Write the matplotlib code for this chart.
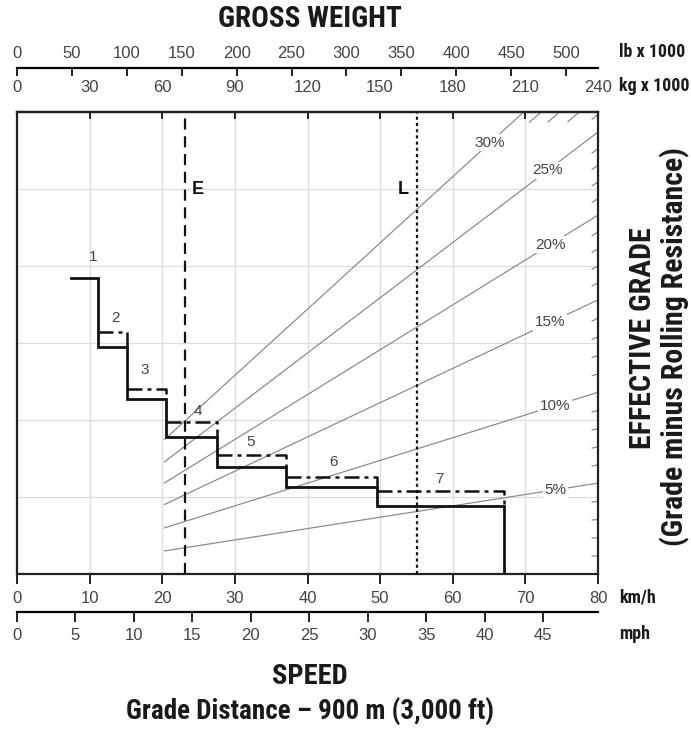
import numpy as np
import matplotlib
matplotlib.use("Agg")
import matplotlib.pyplot as plt
from matplotlib import font_manager

# ---- data ----
# speed in km/h, vertical position in grid units (0..6, unlabeled axis)
gear_names = ['1', '2', '3', '4', '5', '6', '7']
gear_start = [7.4, 11.1, 15.2, 20.5, 27.5, 37.0, 49.6]
gear_end = [11.1, 15.2, 20.5, 27.5, 37.0, 49.6, 67.1]
solid_level = [3.84, 2.95, 2.27, 1.78, 1.39, 1.13, 0.88]
dashdot_level = [None, 3.14, 2.40, 1.97, 1.55, 1.26, 1.08]
gear_label_x = [10.5, 13.5, 17.6, 24.9, 32.2, 43.6, 58.2]
gear_label_y = [4.12, 3.32, 2.65, 2.12, 1.71, 1.45, 1.24]

# grade lines: value reached at the right edge (80 km/h / 240 t), grid units
grade_pct = [5, 10, 15, 20, 25, 30]
grade_edge = [1.18, 2.36, 3.56, 4.66, 5.74, 6.88]
grade_label_x = [74.1, 74.1, 73.4, 73.4, 73.1, 65.1]
grade_start_x = 20.3

e_speed = 23.1
l_speed = 55.1

kmh_ticks = [0, 10, 20, 30, 40, 50, 60, 70, 80]
mph_ticks = [0, 5, 10, 15, 20, 25, 30, 35, 40, 45]
lb_ticks = [0, 50, 100, 150, 200, 250, 300, 350, 400, 450, 500]
kg_ticks = [0, 30, 60, 90, 120, 150, 180, 210, 240]

# ---- fonts ----
names = {f.name for f in font_manager.fontManager.ttflist}
cond = [n for n in ['Roboto Condensed', 'Liberation Sans Narrow'] if n in names] + ['DejaVu Sans']
plain = ['Liberation Sans', 'DejaVu Sans']
tick_col = '#444444'
tick_fs = 12

W, H = 691, 733
fig = plt.figure(figsize=(W / 100, H / 100), dpi=100)
L, R, T, B = 17, 598, 112, 574
ax = fig.add_axes([L / W, 1 - B / H, (R - L) / W, (B - T) / H])
ax.set_xlim(0, 80)
ax.set_ylim(0, 6)

# grid
for x in kmh_ticks[1:-1]:
    ax.axvline(x, color='#dcdcdc', lw=0.9, zorder=0)
for y in range(1, 6):
    ax.axhline(y, color='#dcdcdc', lw=0.9, zorder=0)

# grade lines (straight from zero weight)
for g, edge, lx in zip(grade_pct, grade_edge, grade_label_x):
    x_exit = min(80, 80 * 6 / edge)
    xs = np.array([grade_start_x, x_exit])
    ax.plot(xs, edge * xs / 80, color='#8c8c8c', lw=0.9, zorder=1)
    ax.text(lx, edge * lx / 80, f'{g}%', fontsize=11, family=plain, color=tick_col,
            ha='center', va='center', zorder=2,
            bbox=dict(boxstyle='square,pad=0.1', fc='white', ec='none'))

# short marks for every 1 % where each grade meets the frame
for g in range(1, 30):
    if g in grade_pct:
        continue
    edge = np.interp(g, [0] + grade_pct, [0] + grade_edge)
    if edge <= 6:
        x1, x0 = 80, 79.2
    else:
        x1 = 80 * 6 / edge
        x0 = x1 - 1.6
    xs = np.array([x0, x1])
    ax.plot(xs, edge * xs / 80, color='#8c8c8c', lw=0.9, zorder=1)

# E and L lines
ax.axvline(e_speed, color='#111111', lw=1.6, dashes=(5, 3), zorder=3)
ax.axvline(l_speed, color='#111111', lw=1.6, dashes=(1.4, 1.4), zorder=3)
ax.text(e_speed + 1.0, 5.0, 'E', fontsize=13, fontweight='bold', family=plain,
        ha='left', va='center', color='#111111')
ax.text(l_speed - 1.2, 5.0, 'L', fontsize=13, fontweight='bold', family=plain,
        ha='right', va='center', color='#111111')

# solid staircase
sx, sy = [], []
for x0, x1, lv in zip(gear_start, gear_end, solid_level):
    sx += [x0, x1]
    sy += [lv, lv]
sx.append(gear_end[-1])
sy.append(0)
ax.plot(sx, sy, color='#111111', lw=2.0, solid_joinstyle='miter', zorder=4)

# dash-dot staircase
for x0, x1, lv, sl in zip(gear_start, gear_end, dashdot_level, solid_level):
    if lv is None:
        continue
    ax.plot([x0, x1, x1], [lv, lv, sl], color='#111111', lw=1.8,
            dashes=(6, 2, 1.6, 2), zorder=4)

for name, gx, gy in zip(gear_names, gear_label_x, gear_label_y):
    ax.text(gx, gy, name, fontsize=11, family=plain, color=tick_col,
            ha='center', va='center')

# frame and bottom km/h axis
for sp in ax.spines.values():
    sp.set_linewidth(1.6)
    sp.set_color('#222222')
ax.set_yticks([])
ax.set_xticks(kmh_ticks)
ax.set_xticklabels([str(t) for t in kmh_ticks], family=plain, fontsize=tick_fs, color=tick_col)
ax.tick_params(axis='x', direction='out', length=7, width=1.4, pad=5, color='#222222')

# mph axis
kmh_per_mph = 1.609344
mph_ax = ax.secondary_xaxis(-(612 - B) / (B - T),
                            functions=(lambda x: x / kmh_per_mph, lambda x: x * kmh_per_mph))
mph_ax.set_xticks(mph_ticks)
mph_ax.set_xticklabels([str(t) for t in mph_ticks], family=plain, fontsize=tick_fs, color=tick_col)
mph_ax.tick_params(direction='out', length=7, width=1.4, pad=4.5, color='#222222')
mph_ax.spines['bottom'].set_linewidth(1.6)

# top axes: kg on the frame, lb on a separate line
t_per_lb = 0.45359237
kg_ax = ax.secondary_xaxis('top', functions=(lambda x: x * 3, lambda x: x / 3))
kg_ax.set_xticks(kg_ticks)
kg_ax.set_xticklabels([str(t) for t in kg_ticks], family=plain, fontsize=tick_fs, color=tick_col)
kg_ax.tick_params(direction='in', length=5, width=1.4, pad=12.5, color='#222222')
kg_ax.spines['top'].set_linewidth(1.6)

lb_ax = ax.secondary_xaxis(1 + (T - 68) / (B - T),
                           functions=(lambda x: x * 3 / t_per_lb, lambda x: x * t_per_lb / 3))
lb_ax.set_xticks(lb_ticks)
lb_ax.set_xticklabels([str(t) for t in lb_ticks], family=plain, fontsize=tick_fs, color=tick_col)
lb_ax.tick_params(direction='in', length=6, width=1.4, pad=5, color='#222222')
lb_ax.spines['top'].set_linewidth(1.6)

# titles and unit labels
def ftext(x, y, s, size, **kw):
    fig.text(x / W, 1 - y / H, s, fontsize=size, fontweight='bold', family=cond,
             fontstretch='condensed', color='#1a1a1a', **kw)

ftext(310, 19, 'GROSS WEIGHT', 21, ha='center', va='center')
ftext(619, 52, 'lb x 1000', 13, ha='left', va='center')
ftext(619, 86, 'kg x 1000', 13, ha='left', va='center')
ftext(619, 598, 'km/h', 13, ha='left', va='center')
ftext(619, 634, 'mph', 13, ha='left', va='center')
ftext(310, 676, 'SPEED', 20.5, ha='center', va='center')
ftext(310, 712, 'Grade Distance – 900 m (3,000 ft)', 19.5, ha='center', va='center')
ftext(643, 338, 'EFFECTIVE GRADE', 21.5, ha='center', va='center', rotation=90)
ftext(675, 347, '(Grade minus Rolling Resistance)', 21.5, ha='center', va='center', rotation=90)

fig.savefig('out.png', dpi=100, facecolor='white')
